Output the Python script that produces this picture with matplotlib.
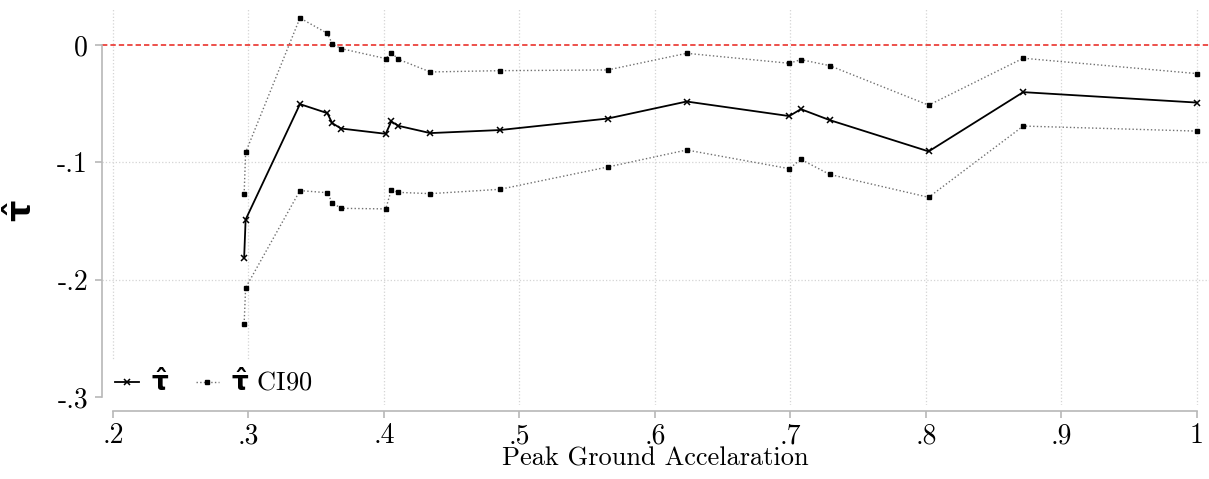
import numpy as np
import matplotlib
matplotlib.use('Agg')
import matplotlib.pyplot as plt

plt.rcParams['font.family'] = ['cmr10', 'DejaVu Serif']
plt.rcParams['mathtext.fontset'] = 'dejavusans'
plt.rcParams['axes.unicode_minus'] = False

# peak ground acceleration (x) and estimates
pga = [0.2968, 0.2979, 0.338, 0.3582, 0.3618, 0.3683, 0.4013, 0.4054, 0.4106,
       0.4342, 0.4856, 0.5651, 0.6234, 0.6991, 0.7077, 0.7289, 0.802, 0.8718, 1.0]
tau_hat = [-0.1814, -0.1488, -0.0504, -0.0581, -0.0666, -0.0712, -0.0757, -0.0652,
           -0.0689, -0.0751, -0.0725, -0.0627, -0.0482, -0.0606, -0.0547, -0.0640,
           -0.0907, -0.0402, -0.0491]
ci_upper = [-0.127, -0.0916, 0.023, 0.0099, 0.0011, -0.0031, -0.0116, -0.0065,
            -0.0122, -0.023, -0.0219, -0.0213, -0.0071, -0.0156, -0.0125, -0.0176,
            -0.0513, -0.0113, -0.0244]
ci_lower = [-0.2375, -0.2069, -0.1241, -0.1259, -0.1344, -0.1392, -0.1397, -0.1236,
            -0.1256, -0.1267, -0.123, -0.104, -0.0895, -0.1054, -0.0975, -0.1103,
            -0.1298, -0.0691, -0.0734]

xticks = [0.2, 0.3, 0.4, 0.5, 0.6, 0.7, 0.8, 0.9, 1.0]
xticklabels = ['.2', '.3', '.4', '.5', '.6', '.7', '.8', '.9', '1']
yticks = [0, -0.1, -0.2, -0.3]
yticklabels = ['0', '-.1', '-.2', '-.3']

fig = plt.figure(figsize=(12.09, 4.79), dpi=100)
ax = fig.add_axes([102 / 1209, 74 / 479, 1107 / 1209, 397 / 479])

# grid (stata style: dotted, no line at the extremes for y)
for xv in xticks:
    ax.axvline(xv, color='#d4d4d4', ls=':', lw=0.9, zorder=0)
for yv in [-0.1, -0.2]:
    ax.axhline(yv, color='#d4d4d4', ls=':', lw=0.9, zorder=0)
ax.axhline(0, color='#e8201a', ls=(0, (3.5, 2)), lw=1.1, zorder=1)

ax.plot(pga, tau_hat, color='black', lw=1.3, marker='x', ms=4, mew=1.1,
        label=r'$\mathbf{\hat{\tau}}$', zorder=3)
ax.plot(pga, ci_upper, color='#707070', lw=1.0, ls=':', marker='s', ms=2.3,
        mfc='black', mec='black', label=r'$\mathbf{\hat{\tau}}$ CI90', zorder=2)
ax.plot(pga, ci_lower, color='#707070', lw=1.0, ls=':', marker='s', ms=2.3,
        mfc='black', mec='black', zorder=2)

ax.set_xlim(0.1919, 1.0089)
ax.set_ylim(-0.3068, 0.0315)

for s in ['top', 'right']:
    ax.spines[s].set_visible(False)
ax.spines['left'].set_bounds(-0.3, 0)
ax.spines['bottom'].set_bounds(0.2, 1.0)
ax.spines['bottom'].set_position(('outward', 4))
for s in ['left', 'bottom']:
    ax.spines[s].set_color('#b8b8b8')
    ax.spines[s].set_linewidth(1.2)

ax.set_xticks(xticks)
ax.set_xticklabels(xticklabels)
ax.set_yticks(yticks)
ax.set_yticklabels(yticklabels)
ax.tick_params(direction='out', length=5, width=1.2, color='#b8b8b8', labelsize=20)
ax.tick_params(axis='x', pad=4)
ax.tick_params(axis='y', pad=5)

ax.set_xlabel('Peak Ground Accelaration', fontsize=19)
ax.xaxis.set_label_coords(0.5, -0.106)
ax.set_ylabel(r'$\mathbf{\hat{\tau}}$', fontsize=24)
ax.yaxis.set_label_coords(-0.058, 0.49)

leg = ax.legend(loc='lower left', bbox_to_anchor=(0.005, 0.003), ncol=2,
                fontsize=19, handlelength=0.9, numpoints=1, columnspacing=1.0,
                handletextpad=0.45, borderaxespad=0.0, borderpad=0.3,
                frameon=True, fancybox=False)
leg.get_frame().set_facecolor('white')
leg.get_frame().set_edgecolor('white')
leg.get_frame().set_alpha(1)

fig.savefig('out.png', dpi=100)
